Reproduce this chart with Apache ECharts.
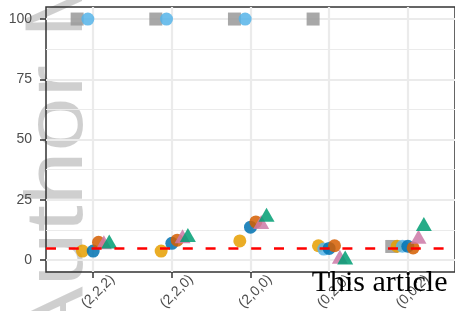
<!DOCTYPE html>
<html>
<head>
<meta charset="utf-8">
<script src="https://cdn.jsdelivr.net/npm/echarts@6/dist/echarts.min.js"></script>
<style>
  html, body { margin: 0; padding: 0; background: #fff; }
  #chart { width: 455px; height: 311px; }
</style>
</head>
<body>
<div id="chart"></div>
<script>
// categories on the x axis (settings)
const categories = ['(2,2,2)', '(2,2,0)', '(2,0,0)', '(0,2,0)', '(0,0,2)'];
const yTicks = [0, 25, 50, 75, 100];
const yMinor = [12.5, 37.5, 62.5, 87.5];
const nominalLevel = 5;

// rejection rates (%) per method
const greySquare = [100, 100, 100, 100, 5.6];
const yellowDot = [3.7, 3.7, 7.9, 5.9, 5.7];
const skyDot = [100, 100, 100, 4.5, 5.7];
const blueDot = [3.7, 6.9, 13.6, 4.8, 5.7];
const redDot = [7.3, 8.2, 15.8, 5.9, 5.0];
const pinkTriangle = [7.4, 9.8, 15.8, 1.3, 9.6];
const greenTriangle = [7.7, 10.4, 18.8, 1.0, 14.9];

// drawing order = dodge order
const methods = [
  { values: greySquare, color: '#999999', symbol: 'rect', size: 13 },
  { values: yellowDot, color: '#E69F00', symbol: 'circle', size: 13 },
  { values: skyDot, color: '#56B4E9', symbol: 'circle', size: 13 },
  { values: blueDot, color: '#0072B2', symbol: 'circle', size: 13 },
  { values: redDot, color: '#D55E00', symbol: 'circle', size: 13 },
  { values: pinkTriangle, color: '#CC79A7', symbol: 'triangle', size: [16, 14] },
  { values: greenTriangle, color: '#009E73', symbol: 'triangle', size: [16, 14] }
];
const dodge = 0.068;
const catPos = categories.map((c, i) => i + 1);

const chart = echarts.init(document.getElementById('chart'));

const series = methods.map((m, k) => ({
  type: 'scatter',
  symbol: m.symbol,
  symbolSize: m.size,
  itemStyle: { color: m.color, opacity: 0.85 },
  z: 3 + k,
  data: m.values.map((v, i) => [catPos[i] + (k - 3) * dodge, v])
}));

// minor horizontal grid lines
series.unshift({
  type: 'scatter',
  data: [],
  silent: true,
  z: 1,
  markLine: {
    silent: true,
    symbol: 'none',
    label: { show: false },
    lineStyle: { color: '#ebebeb', width: 1.1, type: 'solid' },
    data: yMinor.map(v => ({ yAxis: v }))
  }
});

// nominal level
series.push({
  type: 'scatter',
  data: [],
  silent: true,
  z: 20,
  markLine: {
    silent: true,
    symbol: 'none',
    label: { show: false },
    z: 20,
    lineStyle: { color: '#ff0000', width: 2.5, type: [10, 12.8] },
    data: [{ yAxis: nominalLevel }]
  }
});

chart.setOption({
  animation: false,
  backgroundColor: '#ffffff',
  grid: {
    left: 46, top: 7, right: 0, bottom: 39,
    outerBoundsMode: 'none',
    containLabel: false,
    show: true, borderColor: '#333333', borderWidth: 1.5,
    backgroundColor: 'transparent'
  },
  xAxis: {
    type: 'value',
    min: 0.4, max: 5.6,
    axisLine: { show: false, onZero: false },
    axisTick: { show: true, length: 6, customValues: catPos,
      lineStyle: { color: '#333333', width: 1.5 } },
    axisLabel: {
      customValues: catPos,
      formatter: v => categories[Math.round(v) - 1],
      rotate: 45, align: 'center', verticalAlign: 'middle',
      margin: 24.5, padding: [0, 0, 0, 14],
      color: '#4d4d4d', fontSize: 14, fontFamily: 'Liberation Sans'
    },
    splitLine: { show: true, lineStyle: { color: '#ebebeb', width: 2.2 } }
  },
  yAxis: {
    type: 'value',
    min: -5, max: 105,
    axisLine: { show: false, onZero: false },
    axisTick: { show: true, length: 6, customValues: yTicks,
      lineStyle: { color: '#333333', width: 1.5 } },
    axisLabel: {
      customValues: yTicks, margin: 14,
      color: '#4d4d4d', fontSize: 14, fontFamily: 'Liberation Sans'
    },
    splitLine: { show: true, lineStyle: { color: '#ebebeb', width: 2.2 } }
  },
  graphic: [
    {
      type: 'text', x: 59, y: 351, rotation: Math.PI / 2, scaleY: 0.85, z: -10,
      style: {
        text: 'Author Manuscript', fill: 'rgba(0,0,0,0.19)',
        font: '97px "Liberation Sans"', align: 'left', verticalAlign: 'middle'
      }
    },
    {
      type: 'text', x: 311.7, y: 298, z: 100,
      style: {
        text: 'This article is protected by copyright. All rights reserved.',
        fill: '#000000', font: '30px "Liberation Serif"',
        align: 'left', verticalAlign: 'bottom'
      }
    }
  ],
  series: series
});
</script>
</body>
</html>
